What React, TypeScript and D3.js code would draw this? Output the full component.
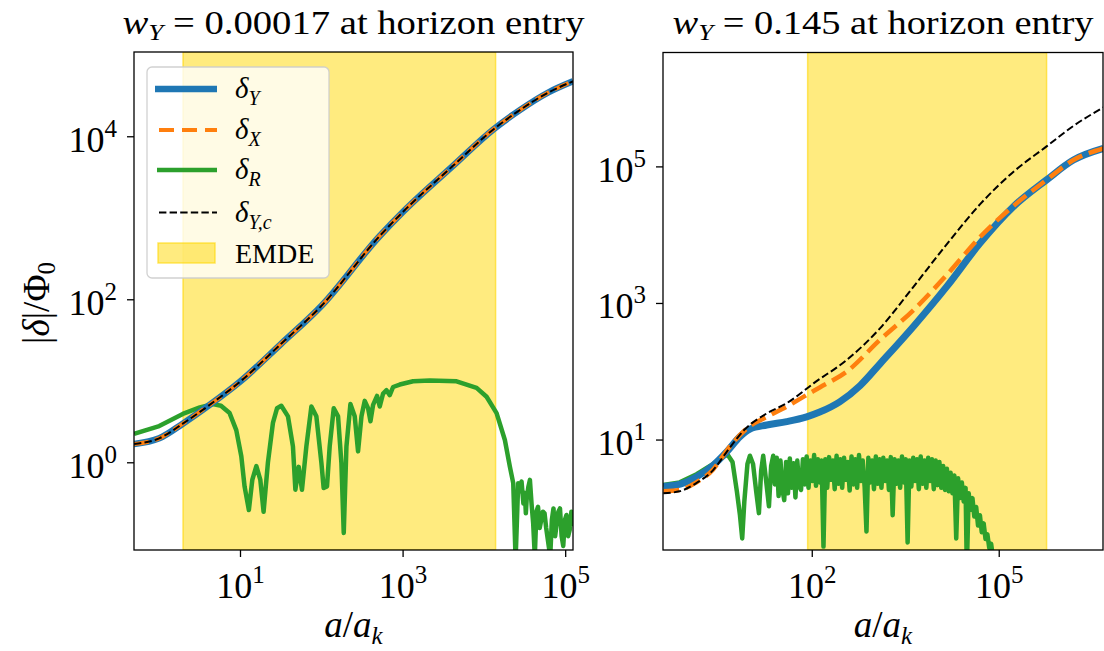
import React from 'react';
import * as d3 from 'd3';

const W = 1104;
const H = 651;

// ---------- LEFT PANEL (values are log10 of a/a_k and log10 |δ|/Φ0) ----------
const leftTitleValue = '0.00017';
const leftEMDE = [0.293, 4.138];
const leftXTicks = [1, 3, 5];
const leftYTicks = [0, 2, 4];

const leftLogA_Y = [-0.31, 0.0, 0.29, 0.62, 1.0, 1.5, 2.0, 2.71, 3.0, 3.61, 4.11, 4.44, 4.78, 5.09];
const leftDeltaY = [0.23, 0.30, 0.48, 0.71, 1.0, 1.46, 1.93, 2.78, 3.08, 3.64, 4.09, 4.33, 4.54, 4.68];
const leftDeltaX = [0.23, 0.30, 0.48, 0.71, 1.0, 1.46, 1.93, 2.78, 3.08, 3.64, 4.09, 4.33, 4.54, 4.68];
const leftDeltaYc = [0.23, 0.30, 0.48, 0.71, 1.0, 1.46, 1.93, 2.78, 3.08, 3.64, 4.09, 4.33, 4.54, 4.68];

const leftLogA_R = [
  -0.31, 0.0, 0.29, 0.5, 0.66, 0.76, 0.866, 0.948, 1.01, 1.05, 1.103, 1.145, 1.195, 1.244, 1.284,
  1.337, 1.399, 1.45, 1.502, 1.584, 1.645, 1.675, 1.716, 1.756, 1.81, 1.872, 1.933, 1.995, 2.023,
  2.064, 2.097, 2.147, 2.2, 2.241, 2.27, 2.303, 2.352, 2.405, 2.446, 2.488, 2.528, 2.569, 2.599,
  2.631, 2.68, 2.713, 2.754, 2.796, 2.836, 2.877, 2.959, 3.123, 3.329, 3.658, 3.904, 4.027, 4.15,
  4.252, 4.314, 4.355, 4.384, 4.416, 4.44, 4.457, 4.48, 4.498, 4.51, 4.52, 4.54, 4.56, 4.58, 4.6,
  4.62, 4.64, 4.66, 4.68, 4.7, 4.72, 4.74, 4.76, 4.78, 4.81, 4.83, 4.85, 4.87, 4.89, 4.91, 4.93,
  4.95, 4.97, 4.99, 5.01, 5.03, 5.05, 5.07, 5.09,
];
const leftDeltaR = [
  0.356, 0.45, 0.6, 0.68, 0.72, 0.7, 0.61, 0.4, 0.08, -0.29, -0.58, -0.21, -0.04, -0.21, -0.6,
  0.0, 0.49, 0.67, 0.7, 0.57, 0.2, -0.33, -0.05, -0.33, 0.2, 0.69, 0.57, 0.0, -0.31,
  -0.29, 0.2, 0.67, 0.57, 0.0, -0.86, 0.2, 0.72, 0.57, 0.14, 0.57, 0.76, 0.67, 0.51,
  0.71, 0.82, 0.69, 0.85, 0.89, 0.83, 0.93, 0.96, 1.0, 1.01, 1.0, 0.92, 0.81, 0.61,
  0.28, -0.05, -0.25, -1.19, -0.25, -0.35, -0.23, -0.5, -0.37, -0.62, -0.45, -0.3, -0.21, -0.5, -0.74,
  -1.15, -0.6, -0.54, -0.8, -0.7, -0.6, -0.62, -0.8, -0.94, -1.15, -0.7, -0.56, -0.9, -0.74, -0.6, -0.56,
  -0.9, -1.02, -0.7, -0.64, -0.9, -0.82, -0.6, -0.78,
];

// ---------- RIGHT PANEL ----------
const rightTitleValue = '0.145';
const rightEMDE = [1.926, 5.76];
const rightXTicks = [2, 5];
const rightYTicks = [1, 3, 5];

const rightLogA_Y = [-0.39, -0.12, 0.14, 0.41, 0.63, 0.84, 1.0, 1.27, 1.59, 1.91, 2.12, 2.44, 2.77, 3.09, 3.62, 4.16, 4.69, 5.23, 5.76, 6.19, 6.67];
const rightDeltaY = [0.32, 0.355, 0.46, 0.63, 0.83, 1.05, 1.16, 1.22, 1.27, 1.34, 1.41, 1.56, 1.8, 2.12, 2.66, 3.25, 3.88, 4.42, 4.81, 5.1, 5.27];

const rightLogA_X = [-0.39, -0.13, 0.14, 0.41, 0.63, 0.95, 1.27, 1.59, 1.91, 2.12, 2.55, 3.09, 3.62, 4.16, 4.69, 5.23, 5.76, 6.19, 6.67];
const rightDeltaX = [0.25, 0.27, 0.38, 0.57, 0.85, 1.17, 1.34, 1.49, 1.66, 1.77, 2.0, 2.47, 2.9, 3.42, 3.97, 4.43, 4.81, 5.1, 5.27];

const rightLogA_Yc = [-0.39, -0.13, 0.14, 0.41, 0.63, 0.91, 1.27, 1.59, 1.75, 2.02, 2.55, 3.09, 3.62, 4.16, 4.69, 5.23, 5.76, 6.19, 6.67];
const rightDeltaYc = [0.22, 0.25, 0.37, 0.56, 0.83, 1.15, 1.39, 1.54, 1.64, 1.83, 2.17, 2.64, 3.24, 3.87, 4.45, 4.93, 5.3, 5.6, 5.87];

const rightLogA_R = [
  -0.392, -0.127, 0.144, 0.411, 0.55, 0.64, 0.72, 0.79, 0.84, 0.876, 0.91, 0.96, 1.0, 1.05, 1.1, 1.144, 1.18, 1.213,
  1.26, 1.305, 1.34, 1.374,
  1.40, 1.43, 1.46, 1.49, 1.52, 1.55, 1.58, 1.61, 1.64, 1.67, 1.70, 1.73, 1.76, 1.79, 1.82, 1.85, 1.88, 1.91, 1.94, 1.97,
  2.00, 2.03, 2.06, 2.09, 2.12, 2.15, 2.18, 2.21, 2.24, 2.27, 2.30, 2.33, 2.36, 2.39, 2.42, 2.45, 2.48, 2.51, 2.54, 2.57,
  2.60, 2.63, 2.66, 2.69, 2.72, 2.75, 2.78, 2.81, 2.84, 2.87, 2.90, 2.93, 2.96, 2.99, 3.02, 3.05, 3.08, 3.11, 3.14, 3.17,
  3.20, 3.23, 3.26, 3.29, 3.32, 3.35, 3.38, 3.41, 3.44, 3.47, 3.50, 3.53, 3.56, 3.59, 3.62, 3.65, 3.68, 3.71, 3.74, 3.77,
  3.80, 3.83, 3.86, 3.89, 3.92, 3.95, 3.98, 4.01, 4.04, 4.07, 4.10, 4.13, 4.16, 4.19, 4.22, 4.25, 4.28, 4.31, 4.34, 4.37,
  4.40, 4.43, 4.46, 4.48, 4.51, 4.54, 4.57, 4.60, 4.63, 4.66, 4.69, 4.72, 4.75, 4.78, 4.81, 4.84, 4.87, 4.90, 4.93,
];
const rightDeltaR = [
  0.34, 0.38, 0.5, 0.65, 0.74, 0.79, 0.68, 0.25, -0.1, -0.44, 0.1, 0.65, 0.77, 0.65, 0.25, -0.07, 0.55, 0.77,
  0.4, 0.03, 0.62, 0.77,
  0.35, 0.74, 0.18, 0.7, 0.28, 0.12, 0.68, 0.22, 0.73, 0.3, 0.66, 0.16, 0.7, 0.32, 0.27, 0.72, 0.35, 0.76, 0.3, 0.7,
  0.4, 0.78, 0.33, 0.72, 0.38, 0.7, -0.56, 0.72, 0.3, 0.75, 0.42, 0.7, 0.28, 0.77, 0.36, 0.72, 0.3, 0.74, 0.42, 0.68,
  0.26, 0.76, 0.35, 0.72, 0.3, 0.78, 0.4, 0.7, 0.32, -0.34, 0.74, 0.38, 0.7, 0.28, 0.76, 0.36, 0.72, 0.3, 0.74, 0.4,
  0.7, 0.27, 0.75, -0.1, 0.72, 0.36, 0.7, 0.3, 0.76, 0.38, 0.72, -0.5, 0.7, 0.32, 0.74, 0.4, 0.72, 0.28, 0.76, 0.36,
  0.7, 0.3, 0.74, 0.4, 0.72, 0.28, 0.7, 0.34, 0.68, 0.3, 0.62, 0.27, 0.58, 0.25, 0.52, 0.22, 0.48, -0.44, 0.44, 0.15,
  0.38, 0.1, 0.3, -0.9, 0.22, -0.02, 0.15, -0.12, 0.02, -0.25, -0.1, -0.35, -0.22, -0.45, -0.38, -0.58, -0.52, -0.72, -0.9,
];

const BLUE = '#1f77b4';
const ORANGE = '#ff7f0e';
const GREEN = '#2ca02c';
const FONT = '"Liberation Serif", "Times New Roman", serif';

type Series = { xs: number[]; ys: number[]; color: string; width: number; dash?: string; smooth?: boolean };

type PanelProps = {
  id: string;
  x0: number; x1: number; y0: number; y1: number;
  xDom: [number, number]; yDom: [number, number];
  emde: number[];
  xTicks: number[]; yTicks: number[];
  series: Series[];
  title: string;
  titleLen: number;
};

function Sup({ base, exp }: { base: string; exp: number }) {
  return (
    <>
      <tspan>{base}</tspan>
      <tspan fontSize={25} dy={-15}>{exp}</tspan>
    </>
  );
}

function Panel(p: PanelProps) {
  const xs = d3.scaleLog().domain([10 ** p.xDom[0], 10 ** p.xDom[1]]).range([p.x0, p.x1]);
  const ys = d3.scaleLog().domain([10 ** p.yDom[0], 10 ** p.yDom[1]]).range([p.y1, p.y0]);
  const cx = (p.x0 + p.x1) / 2;
  return (
    <g>
      <defs>
        <clipPath id={p.id}>
          <rect x={p.x0} y={p.y0} width={p.x1 - p.x0} height={p.y1 - p.y0} />
        </clipPath>
      </defs>
      <g clipPath={`url(#${p.id})`}>
        <rect
          x={xs(10 ** p.emde[0])}
          y={p.y0}
          width={xs(10 ** p.emde[1]) - xs(10 ** p.emde[0])}
          height={p.y1 - p.y0}
          fill="#ffd700"
          fillOpacity={0.5}
          stroke="#ffd700"
          strokeOpacity={0.6}
          strokeWidth={1.5}
        />
        {p.series.map((s, i) => {
          const pts: [number, number][] = s.xs.map((v, k) => [v, s.ys[k]]);
          const line = d3
            .line<[number, number]>()
            .x((d) => xs(10 ** d[0]))
            .y((d) => ys(10 ** d[1]))
            .curve(s.smooth ? d3.curveMonotoneX : d3.curveLinear);
          return (
            <path
              key={i}
              d={line(pts) || ''}
              fill="none"
              stroke={s.color}
              strokeWidth={s.width}
              strokeDasharray={s.dash}
              strokeLinejoin="round"
            />
          );
        })}
      </g>
      <rect x={p.x0} y={p.y0} width={p.x1 - p.x0} height={p.y1 - p.y0} fill="none" stroke="#000" strokeWidth={1.3} />
      {p.xTicks.map((t) => (
        <g key={'x' + t}>
          <line x1={xs(10 ** t)} x2={xs(10 ** t)} y1={p.y1} y2={p.y1 + 7} stroke="#000" strokeWidth={1.3} />
          <text x={xs(10 ** t)} y={598} textAnchor="middle" fontSize={36} fontFamily={FONT}>
            <Sup base="10" exp={t} />
          </text>
        </g>
      ))}
      {p.yTicks.map((t) => (
        <g key={'y' + t}>
          <line x1={p.x0 - 7} x2={p.x0} y1={ys(10 ** t)} y2={ys(10 ** t)} stroke="#000" strokeWidth={1.3} />
          <text x={p.x0 - 17} y={ys(10 ** t) + 15} textAnchor="end" fontSize={36} fontFamily={FONT}>
            <Sup base="10" exp={t} />
          </text>
        </g>
      ))}
      <text
        x={cx}
        y={34}
        textAnchor="middle"
        fontSize={33}
        fontFamily={FONT}
        textLength={p.titleLen}
        lengthAdjust="spacingAndGlyphs"
      >
        <tspan fontStyle="italic">w</tspan>
        <tspan fontStyle="italic" fontSize={23} dy={6}>Y</tspan>
        <tspan dy={-6}>{` = ${p.title} at horizon entry`}</tspan>
      </text>
      <text x={cx} y={637} textAnchor="middle" fontSize={37} fontFamily={FONT}>
        <tspan fontStyle="italic">a</tspan>
        <tspan>/</tspan>
        <tspan fontStyle="italic">a</tspan>
        <tspan fontStyle="italic" fontSize={25} dy={7}>k</tspan>
      </text>
    </g>
  );
}

function Legend() {
  const x0 = 147, y0 = 67, w = 182, h = 211;
  const lx1 = 155, lx2 = 217, tx = 235;
  const rows = [89, 130, 170, 212.5, 253];
  const sub = (main: string, s: string, y: number) => (
    <text x={tx} y={y + 9} fontSize={29} fontFamily={FONT}>
      <tspan fontStyle="italic">{main}</tspan>
      <tspan fontStyle="italic" fontSize={20} dy={7}>{s}</tspan>
    </text>
  );
  return (
    <g>
      <rect x={x0} y={y0} width={w} height={h} rx={5} fill="#fff" fillOpacity={0.8} stroke="#ccc" strokeOpacity={0.9} strokeWidth={1.3} />
      <line x1={lx1} x2={lx2} y1={rows[0]} y2={rows[0]} stroke={BLUE} strokeWidth={6.5} />
      {sub('δ', 'Y', rows[0])}
      <line x1={lx1 + 4} x2={lx2} y1={rows[1]} y2={rows[1]} stroke={ORANGE} strokeWidth={4} strokeDasharray="15 8" />
      {sub('δ', 'X', rows[1])}
      <line x1={lx1 + 2} x2={lx2} y1={rows[2]} y2={rows[2]} stroke={GREEN} strokeWidth={4.5} />
      {sub('δ', 'R', rows[2])}
      <line x1={lx1 + 4} x2={lx2} y1={rows[3]} y2={rows[3]} stroke="#000" strokeWidth={2} strokeDasharray="7.4 3.2" />
      {sub('δ', 'Y,c', rows[3])}
      <rect x={158} y={243} width={57} height={20} fill="#ffd700" fillOpacity={0.5} stroke="#ffd700" strokeOpacity={0.6} strokeWidth={1.5} />
      <text x={tx} y={rows[4] + 10} fontSize={28} fontFamily={FONT}>EMDE</text>
    </g>
  );
}

export default function App() {
  const left: PanelProps = {
    id: 'clipL',
    x0: 134, x1: 573, y0: 52, y1: 550,
    xDom: [-0.31, 5.09], yDom: [-1.07, 5.04],
    emde: leftEMDE,
    xTicks: leftXTicks, yTicks: leftYTicks,
    title: leftTitleValue,
    titleLen: 462,
    series: [
      { xs: leftLogA_R, ys: leftDeltaR, color: GREEN, width: 4.5 },
      { xs: leftLogA_Y, ys: leftDeltaY, color: BLUE, width: 6.5, smooth: true },
      { xs: leftLogA_Y, ys: leftDeltaX, color: ORANGE, width: 4, dash: '15 6.4', smooth: true },
      { xs: leftLogA_Y, ys: leftDeltaYc, color: '#000', width: 2, dash: '7.4 3.2', smooth: true },
    ],
  };
  const right: PanelProps = {
    id: 'clipR',
    x0: 663, x1: 1103, y0: 52.5, y1: 550,
    xDom: [-0.395, 6.665], yDom: [-0.61, 6.675],
    emde: rightEMDE,
    xTicks: rightXTicks, yTicks: rightYTicks,
    title: rightTitleValue,
    titleLen: 421,
    series: [
      { xs: rightLogA_R, ys: rightDeltaR, color: GREEN, width: 4.5 },
      { xs: rightLogA_Y, ys: rightDeltaY, color: BLUE, width: 7, smooth: true },
      { xs: rightLogA_X, ys: rightDeltaX, color: ORANGE, width: 4.5, dash: '16 7', smooth: true },
      { xs: rightLogA_Yc, ys: rightDeltaYc, color: '#000', width: 2, dash: '7.4 3.2', smooth: true },
    ],
  };
  return (
    <svg width={W} height={H} style={{ position: 'absolute', left: 0, top: 0, background: '#fff' }}>
      <rect x={0} y={0} width={W} height={H} fill="#fff" />
      <Panel {...left} />
      <Panel {...right} />
      <Legend />
      <text transform="translate(49,303) rotate(-90)" textAnchor="middle" fontSize={37} fontFamily={FONT}>
        <tspan>|</tspan>
        <tspan fontStyle="italic">δ</tspan>
        <tspan>|/Φ</tspan>
        <tspan fontSize={25} dy={6}>0</tspan>
      </text>
    </svg>
  );
}
